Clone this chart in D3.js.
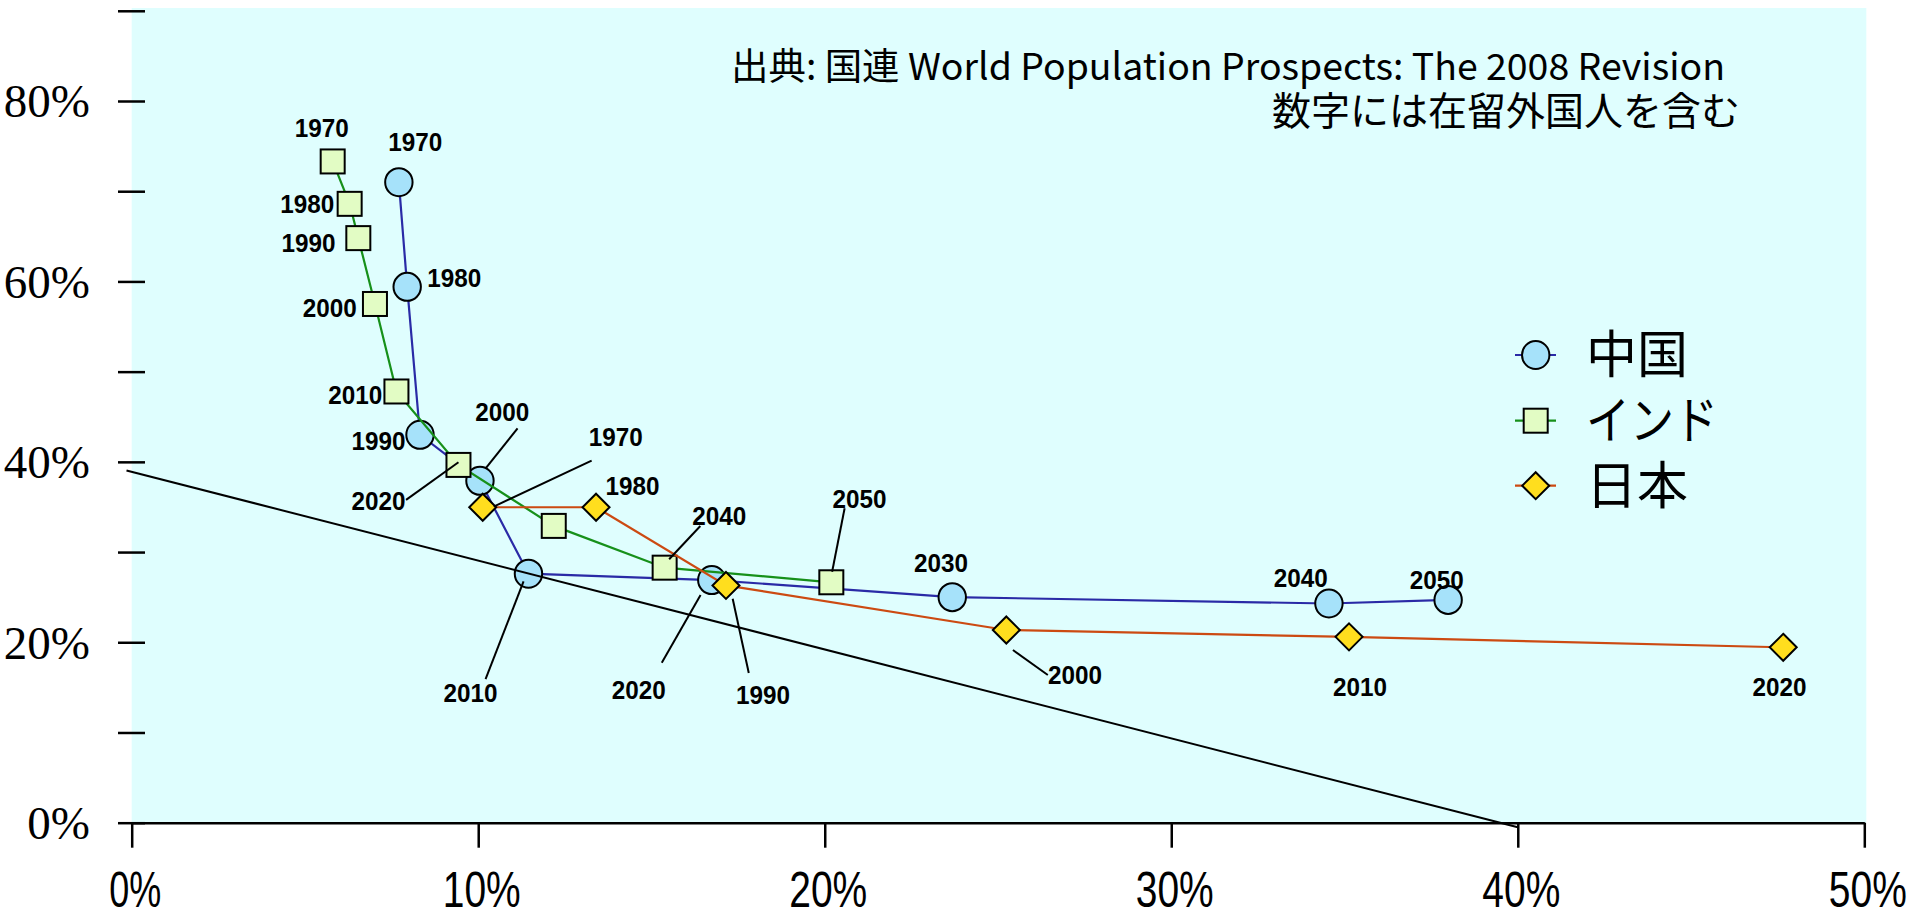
<!DOCTYPE html>
<html>
<head>
<meta charset="utf-8">
<script src="https://cdn.jsdelivr.net/npm/d3@7"></script>
<style>
  html, body { margin: 0; padding: 0; background: #ffffff; }
  svg { display: block; }
</style>
</head>
<body>
<svg id="chart" width="1911" height="923"></svg>
<script>
// ---------------- DATA ----------------
const years = [1970, 1980, 1990, 2000, 2010, 2020, 2030, 2040, 2050];
const japanYears = [1970, 1980, 1990, 2000, 2010, 2020];

// x: old-age ratio (%), y: child ratio (%)
const chinaOld   = [7.71, 7.95, 8.32, 10.05, 11.45, 16.74, 23.68, 34.55, 37.99];
const chinaYoung = [71.0, 59.4, 43.0, 37.9, 27.6, 26.9, 25.0, 24.3, 24.7];
const indiaOld   = [5.80, 6.29, 6.54, 7.02, 7.64, 9.43, 12.18, 15.38, 20.19];
const indiaYoung = [73.3, 68.6, 64.8, 57.5, 47.8, 39.66, 32.9, 28.27, 26.65];
const japanOld   = [10.13, 13.40, 17.15, 25.24, 35.13, 47.66];
const japanYoung = [34.97, 34.97, 26.3, 21.36, 20.6, 19.44];

const refLineOld   = [-0.15, 40.0];
const refLineYoung = [39.05, -0.5];

const seriesNames = ["中国", "インド", "日本"];
const xTickValues = [0, 10, 20, 30, 40, 50];
const xTickLabels = ["0%", "10%", "20%", "30%", "40%", "50%"];
const yTickValues = [0, 10, 20, 30, 40, 50, 60, 70, 80, 90];
const yTickLabels = ["0%", "", "20%", "", "40%", "", "60%", "", "80%", ""];
const sourceLine1 = "出典: 国連 World Population Prospects: The 2008 Revision";
const sourceLine2 = "数字には在留外国人を含む";

// ---------------- LAYOUT / STYLE ----------------
const styles = {
  "中国":   { line: "#2a2aa6", fill: "#a6e2fa", shape: "circle" },
  "インド": { line: "#17901a", fill: "#e2fcc4", shape: "square" },
  "日本":   { line: "#cc4a12", fill: "#ffde1e", shape: "diamond" }
};
const legendLabelWidth = { "中国": null, "インド": 132, "日本": null };

// label offsets (px) relative to marker centre, optional leader [sx,sy,ex,ey]
const labelLayout = {
  "中国": {
    1970: { d: [16.5, -41] }, 1980: { d: [47, -9] }, 1990: { d: [-41.6, 5.5] },
    2000: { d: [22.4, -69], leader: [37.6, -52.4, 5.7, -12.4] },
    2010: { d: [-57.9, 119.3], leader: [-42.9, 105.3, -4.9, 7.7] },
    2020: { d: [-73, 109.7], leader: [-50, 82.7, -11.2, 15] },
    2030: { d: [-11.2, -34.3] }, 2040: { d: [-28.2, -25.5] }, 2050: { d: [-11.3, -20.3] }
  },
  "インド": {
    1970: { d: [-10.9, -33.4] }, 1980: { d: [-42.5, -0.2] }, 1990: { d: [-49.8, 4.7] },
    2000: { d: [-45.3, 3.5] }, 2010: { d: [-41.2, 2.8] },
    2020: { d: [-79.9, 35.3], leader: [-52.4, 35, 0, -2.7] },
    2040: { d: [54.7, -52.2], leader: [35.7, -41.7, 4.5, -8.4] },
    2050: { d: [28.1, -83.5], leader: [13.3, -74, 0.8, -10.6] }
  },
  "日本": {
    1970: { d: [133, -70.8], leader: [108.9, -46.6, 11, -0.6] },
    1980: { d: [36.5, -21.8] },
    1990: { d: [37.1, 108.8], leader: [22.8, 87.6, 6.7, 13.3] },
    2000: { d: [68.7, 44.5], leader: [41.5, 45, 6.6, 20] },
    2010: { d: [10.9, 49.6] }, 2020: { d: [-3.8, 39] }
  }
};

const svg = d3.select("#chart");

const x = d3.scaleLinear().domain([0, 50]).range([131.7, 1864.3]);
const y = d3.scaleLinear().domain([0, 80]).range([822.7, 101]);

// panel background
svg.append("rect")
  .attr("x", x(0)).attr("y", 8)
  .attr("width", x(50) - x(0) + 2).attr("height", y(0) - 8)
  .attr("fill", "#dffefe");

// source text
svg.append("text")
  .attr("x", 731).attr("y", 80)
  .attr("textLength", 994).attr("lengthAdjust", "spacingAndGlyphs")
  .style("font-family", "'Noto Sans CJK JP', sans-serif")
  .attr("font-size", 37).attr("fill", "#000")
  .text(sourceLine1);
svg.append("text")
  .attr("x", 1740).attr("y", 125)
  .attr("text-anchor", "end")
  .style("font-family", "'Noto Sans CJK JP', sans-serif")
  .attr("font-size", 39).attr("fill", "#000")
  .text(sourceLine2);

// axes
const yAxis = d3.axisLeft(y)
  .tickValues(yTickValues)
  .tickSizeInner(27).tickSizeOuter(0).tickPadding(28)
  .tickFormat((d, i) => yTickLabels[i]);
const gy = svg.append("g").attr("transform", "translate(145,0)").call(yAxis);
gy.select(".domain").remove();
gy.attr("font-family", null);
gy.selectAll(".tick line").attr("stroke", "#000").attr("stroke-width", 2.5);
gy.selectAll(".tick text")
  .style("font-family", "'Liberation Serif', 'DejaVu Serif', serif")
  .style("font-size", "47px").attr("fill", "#000")
  .attr("dy", "0.34em");

const xAxis = d3.axisBottom(x)
  .tickValues(xTickValues)
  .tickSizeInner(25).tickSizeOuter(0).tickPadding(23)
  .tickFormat((d, i) => xTickLabels[i]);
const gx = svg.append("g").attr("transform", `translate(0,${y(0)})`).call(xAxis);
gx.attr("font-family", null);
gx.select(".domain").attr("stroke", "#000").attr("stroke-width", 2.5);
gx.selectAll(".tick line").attr("stroke", "#000").attr("stroke-width", 2.5);
gx.selectAll(".tick text")
  .style("font-family", "'Liberation Sans', Arial, sans-serif")
  .style("font-size", "50px").attr("fill", "#000")
  .attr("dx", 3)
  .attr("dy", "0.72em")
  .attr("textLength", (d, i) => xTickLabels[i].length === 2 ? 52 : 78)
  .attr("lengthAdjust", "spacingAndGlyphs");

// series
const series = [
  { name: "中国",   yrs: years,      xs: chinaOld, ys: chinaYoung },
  { name: "インド", yrs: years,      xs: indiaOld, ys: indiaYoung },
  { name: "日本",   yrs: japanYears, xs: japanOld, ys: japanYoung }
];

function drawMarker(g, shape, cx, cy, fill) {
  if (shape === "circle") {
    g.append("ellipse").attr("cx", cx).attr("cy", cy).attr("rx", 13.7).attr("ry", 14)
      .attr("fill", fill).attr("stroke", "#000").attr("stroke-width", 2);
  } else if (shape === "square") {
    g.append("rect").attr("x", cx - 12).attr("y", cy - 12).attr("width", 24).attr("height", 24)
      .attr("fill", fill).attr("stroke", "#000").attr("stroke-width", 2);
  } else {
    const r = 13.5;
    g.append("path").attr("d", `M${cx},${cy - r}L${cx + r},${cy}L${cx},${cy + r}L${cx - r},${cy}Z`)
      .attr("fill", fill).attr("stroke", "#000").attr("stroke-width", 2);
  }
}

const line = d3.line().x(d => x(d[0])).y(d => y(d[1]));
const gSeries = svg.append("g");
series.forEach(s => {
  const st = styles[s.name];
  const pts = s.xs.map((v, i) => [v, s.ys[i]]);
  gSeries.append("path").attr("d", line(pts))
    .attr("fill", "none").attr("stroke", st.line).attr("stroke-width", 2.2);
  pts.forEach(p => drawMarker(gSeries, st.shape, x(p[0]), y(p[1]), st.fill));
});

// reference line
svg.append("path")
  .attr("d", line(refLineOld.map((v, i) => [v, refLineYoung[i]])))
  .attr("fill", "none").attr("stroke", "#000").attr("stroke-width", 2);

// leaders and labels
const gLab = svg.append("g");
series.forEach(s => {
  const lay = labelLayout[s.name];
  s.yrs.forEach((yr, i) => {
    const L = lay[yr];
    if (!L) return;
    const px = x(s.xs[i]), py = y(s.ys[i]);
    if (L.leader) {
      gLab.append("line")
        .attr("x1", px + L.leader[0]).attr("y1", py + L.leader[1])
        .attr("x2", px + L.leader[2]).attr("y2", py + L.leader[3])
        .attr("stroke", "#000").attr("stroke-width", 2);
    }
    gLab.append("text")
      .attr("x", px + L.d[0]).attr("y", py + L.d[1])
      .attr("dy", "0.36em").attr("text-anchor", "middle")
      .style("font-family", "'Liberation Sans', Arial, sans-serif")
      .attr("font-weight", "bold").attr("font-size", 26).attr("fill", "#000")
      .attr("textLength", 54).attr("lengthAdjust", "spacingAndGlyphs")
      .text(yr);
  });
});

// legend
const legendY = [355, 420.7, 485.7];
const gLeg = svg.append("g");
seriesNames.forEach((n, i) => {
  const st = styles[n];
  const cy = legendY[i];
  gLeg.append("line").attr("x1", 1515).attr("x2", 1556).attr("y1", cy).attr("y2", cy)
    .attr("stroke", st.line).attr("stroke-width", 2.2);
  drawMarker(gLeg, st.shape, 1535.7, cy, st.fill);
  const t = gLeg.append("text").attr("x", 1586).attr("y", cy).attr("dy", "0.36em")
    .style("font-family", "'Noto Sans CJK JP', sans-serif")
    .attr("font-size", 51).attr("fill", "#000")
    .text(n);
  if (legendLabelWidth[n]) t.attr("textLength", legendLabelWidth[n]).attr("lengthAdjust", "spacingAndGlyphs");
});
</script>
</body>
</html>
